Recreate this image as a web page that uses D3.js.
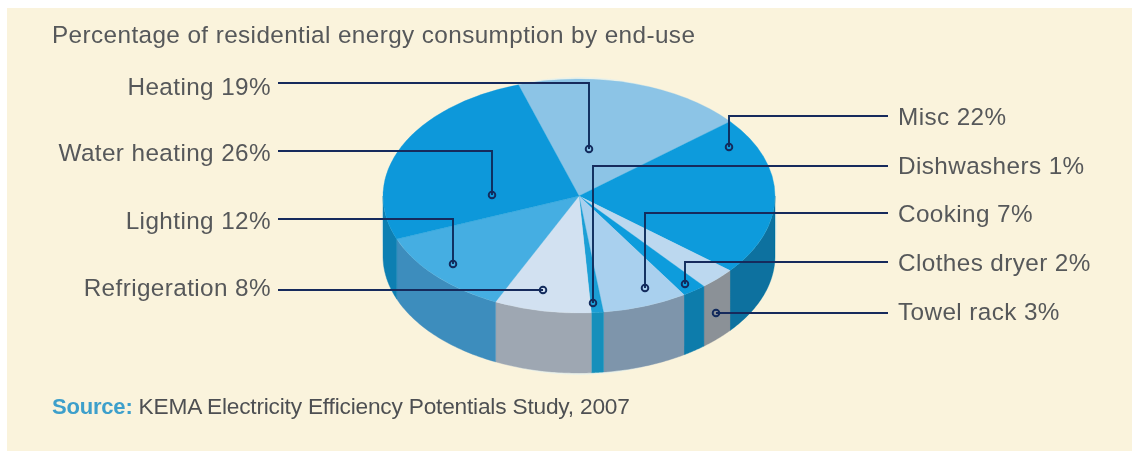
<!DOCTYPE html>
<html><head><meta charset="utf-8">
<script src="https://cdn.jsdelivr.net/npm/d3@7"></script>
<style>html,body{margin:0;padding:0;background:#fff}svg{display:block}text{font-family:"Liberation Sans",Arial,sans-serif}</style>
</head><body><svg id="c" width="1132" height="451"></svg>
<script>
const titleText = "Percentage of residential energy consumption by end-use";
const sourceLabel = "Source:";
const sourceText = " KEMA Electricity Efficiency Potentials Study, 2007";
// clockwise order round the pie, starting from Heating
const categories = ["Heating","Misc","Towel rack","Clothes dryer","Cooking","Dishwashers","Refrigeration","Lighting","Water heating"];
const values = [19,22,3,2,7,1,8,12,26];
const topColors = ["#8cc4e6","#0a9bdc","#bcd8ef","#0e9cdc","#a9d0ee","#1a9fd6","#d2e1f1","#45aee2","#0a98da"];
const sideColors = ["#7fb5d5","#07719f","#8b9197","#0c7cab","#7e95ab","#138fbb","#9ea7b2","#3e8dbd","#0b7fb2"];

const W = 1132, H = 451;
const cx = 579, cy = 196, rx = 196, ry = 117, depth = 60, startDeg = -18;
const svg = d3.select("#c");
const defs = svg.append("defs");
defs.append("filter").attr("id","soft").attr("x","-5%").attr("y","-5%").attr("width","110%").attr("height","110%")
  .append("feGaussianBlur").attr("stdDeviation",0.6);
defs.append("filter").attr("id","softT").append("feGaussianBlur").attr("stdDeviation",0.35);

svg.append("rect").attr("x",7).attr("y",8).attr("width",W-7).attr("height",H-8).attr("fill","#faf3dc");

const startRad = startDeg*Math.PI/180;
const pie = d3.pie().sort(null).startAngle(startRad).endAngle(startRad+2*Math.PI);
const arcs = pie(values);
const px = d3.scaleLinear().domain([-1,1]).range([cx-rx,cx+rx]);
const py = d3.scaleLinear().domain([-1,1]).range([cy-ry,cy+ry]);

const chart = svg.append("g").attr("filter","url(#soft)");

// halo
chart.append("ellipse").attr("cx",cx).attr("cy",cy+depth/2).attr("rx",rx+2).attr("ry",ry+depth/2+2).attr("fill","#e4f1ee").attr("opacity",.7);

// side wall: only the front half of the rim (angles 90 to 270 degrees) is visible
const lineGen = d3.line().x(d=>d[0]).y(d=>d[1]);
arcs.forEach((a,i)=>{
  let s=a.startAngle, e=a.endAngle;
  if(s<0){s+=2*Math.PI;e+=2*Math.PI;}
  const lo=Math.max(s,Math.PI/2), hi=Math.min(e,3*Math.PI/2);
  if(hi<=lo) return;
  const ang=d3.range(0,41).map(k=>lo+(hi-lo)*k/40);
  const upper=ang.map(t=>[px(Math.sin(t)),py(-Math.cos(t))]);
  const lower=ang.slice().reverse().map(t=>[px(Math.sin(t)),py(-Math.cos(t))+depth]);
  chart.append("path").attr("d",lineGen(upper.concat(lower))+"Z").attr("fill",sideColors[i]).attr("stroke",sideColors[i]).attr("stroke-width",.4);
});
// top face
const arcGen = d3.arc().innerRadius(0).outerRadius(1);
const topFace = chart.append("g").attr("transform",`translate(${cx},${cy}) scale(${rx},${ry})`);
topFace.selectAll("path").data(arcs).join("path").attr("d",arcGen).attr("fill",(d,i)=>topColors[i])
  .attr("stroke",(d,i)=>topColors[i]).attr("stroke-width",.002);

// leaders: [label, side, line y, elbow x, anchor y, label baseline y]
const leaderLayout = [
  ["Heating",-1,83,589,149,95],["Water heating",-1,151,492,195,161],["Lighting",-1,219,453,264,229],["Refrigeration",-1,290,543,290,296],
  ["Misc",1,116,729,147,125],["Dishwashers",1,166,593,303,174],["Cooking",1,213,645,288,222],["Clothes dryer",1,262,685,284,271],["Towel rack",1,313,716,313,320]
];
const ink="#122a5c";
const ann=svg.append("g").attr("filter","url(#softT)");
leaderLayout.forEach(([name,side,y,ex,ay,ly])=>{
  const v=values[categories.indexOf(name)];
  const x0= side<0?278:888;
  ann.append("path").attr("d",lineGen([[x0,y],[ex,y],[ex,ay]])).attr("fill","none").attr("stroke",ink).attr("stroke-width",1.9);
  ann.append("circle").attr("cx",ex).attr("cy",ay).attr("r",3.3).attr("fill","none").attr("stroke",ink).attr("stroke-width",1.9);
  ann.append("text").attr("x",side<0?271:898).attr("y",ly).attr("text-anchor",side<0?"end":"start")
    .attr("font-size",24.3).attr("letter-spacing",0.4).attr("fill","#56585a").text(`${name} ${v}%`);
});
ann.append("text").attr("x",52).attr("y",43).attr("font-size",24.3).attr("letter-spacing",0.4).attr("fill","#56585a").text(titleText);
const srcText=ann.append("text").attr("x",52).attr("y",414).attr("font-size",22).attr("fill","#4e5052").attr("letter-spacing",-0.2);
srcText.append("tspan").attr("fill","#3c9fcb").attr("font-weight",700).text(sourceLabel);
srcText.append("tspan").attr("font-size",22.7).text(sourceText);
</script></body></html>
